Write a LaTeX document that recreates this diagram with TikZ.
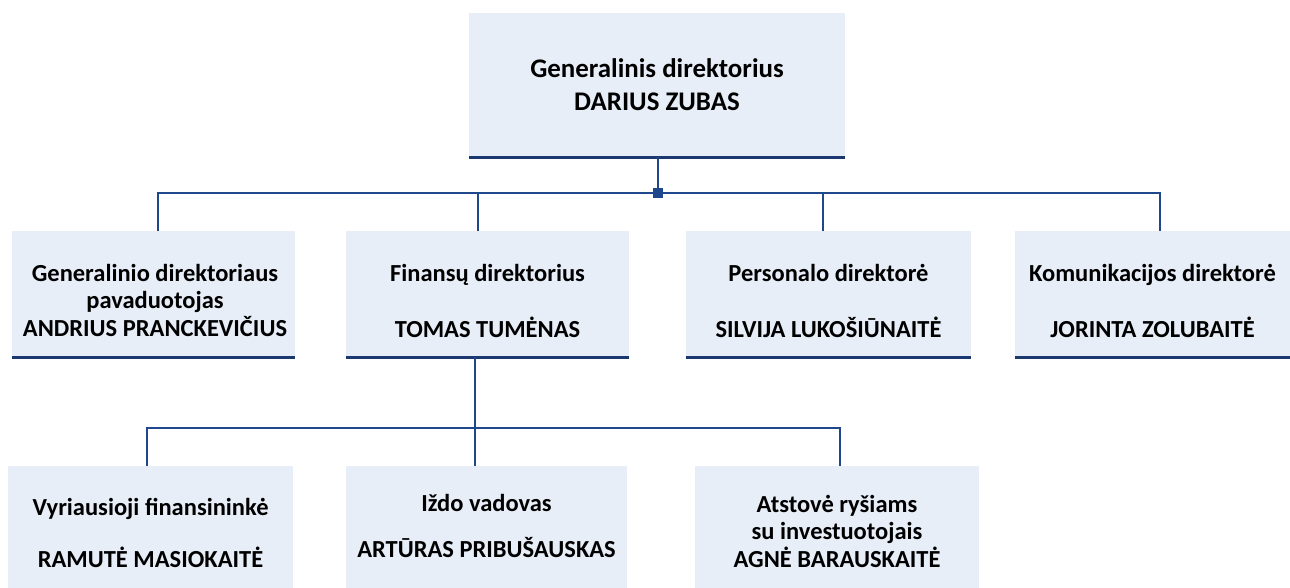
\documentclass[tikz,border=0pt]{standalone}
\usepackage{fontspec}
\setmainfont{Carlito}
\usetikzlibrary{calc}
\definecolor{boxfill}{RGB}{232,238,248}
\definecolor{linec}{RGB}{31,72,140}
\definecolor{basec}{RGB}{28,56,112}
\newcommand{\orgstrut}{\rule{0pt}{30pt}}
\begin{document}
\begin{tikzpicture}[x=1pt,y=-1pt,
  orgbox/.style={rectangle, fill=boxfill, inner sep=0pt, minimum width=#1, minimum height=126pt},
  baseline rule/.style={draw=basec, line width=3pt},
  conn/.style={draw=linec, line width=2.4pt},
  txt/.style={inner sep=0pt, anchor=north, align=center, text=black, font=\bfseries\fontsize{24.5}{27.4}\selectfont},
  toptxt/.style={inner sep=0pt, anchor=north, align=center, text=black, font=\bfseries\fontsize{26.9}{33}\selectfont},
  junction/.style={rectangle, fill=linec, inner sep=0pt, minimum size=10pt}]
\useasboundingbox (0,0) rectangle (1290,588);
\fill[white] (0,0) rectangle (1290,588);

% top box (first baseline at y = anchor + 30)
\node[orgbox=376pt, minimum height=144pt] (top) at (657,85) {};
\draw[baseline rule] (top.south west) -- (top.south east);
\node[toptxt] (toplbl) at (657,47) {\orgstrut Generalinis direktorius\\DARIUS ZUBAS};

% second row
\node[orgbox=283pt] (b1) at (153.5,294) {};
\node[orgbox=283pt] (b2) at (487.5,294) {};
\node[orgbox=285pt] (b3) at (828.5,294) {};
\node[orgbox=275pt] (b4) at (1152.5,294) {};
\foreach \b in {b1,b2,b3,b4}{\draw[baseline rule] (\b.south west) -- (\b.south east);}
\node[txt] (t1) at (155,251) {\orgstrut Generalinio direktoriaus\\pavaduotojas\\ANDRIUS PRANCKEVIČIUS};
\node[txt] (t2) at (487.5,251) {\orgstrut Finansų direktorius\\[28.6pt]TOMAS TUMĖNAS};
\node[txt] (t3) at (828.5,251) {\orgstrut Personalo direktorė\\[28.6pt]SILVIJA LUKOŠIŪNAITĖ};
\node[txt] (t4) at (1152.5,251) {\orgstrut Komunikacijos direktorė\\[28.6pt]JORINTA ZOLUBAITĖ};

% third row
\node[orgbox=285pt] (c1) at (150.5,529) {};
\node[orgbox=281pt] (c2) at (486.5,529) {};
\node[orgbox=284pt] (c3) at (837,529) {};
\node[txt] (u1) at (150.5,485) {\orgstrut Vyriausioji finansininkė\\[24.6pt]RAMUTĖ MASIOKAITĖ};
\node[txt] (u2) at (486.5,481) {\orgstrut Iždo vadovas\\[18.6pt]ARTŪRAS PRIBUŠAUSKAS};
\node[txt] (u3) at (837,482) {\orgstrut Atstovė ryšiams\\su investuotojais\\AGNĖ BARAUSKAITĖ};

% connectors level 1
\coordinate (j1) at (658,193);
\coordinate (d1) at (158,231);
\coordinate (d2) at (478,231);
\coordinate (d3) at (823,231);
\coordinate (d4) at (1160,231);
\draw[conn] (top.south -| j1) -- (j1);
\draw[conn] (d1) -- (d1 |- j1) -- (d4 |- j1) -- (d4);
\draw[conn] (d2) -- (d2 |- j1);
\draw[conn] (d3) -- (d3 |- j1);
\node[junction] (sq) at (j1) {};

% connectors level 2
\coordinate (j2) at (475,428);
\coordinate (e1) at (147,466);
\coordinate (e2) at (475,466);
\coordinate (e3) at (840,466);
\draw[conn] (b2.south -| j2) -- (e2);
\draw[conn] (e1) -- (e1 |- j2) -- (e3 |- j2) -- (e3);
\end{tikzpicture}
\end{document}
